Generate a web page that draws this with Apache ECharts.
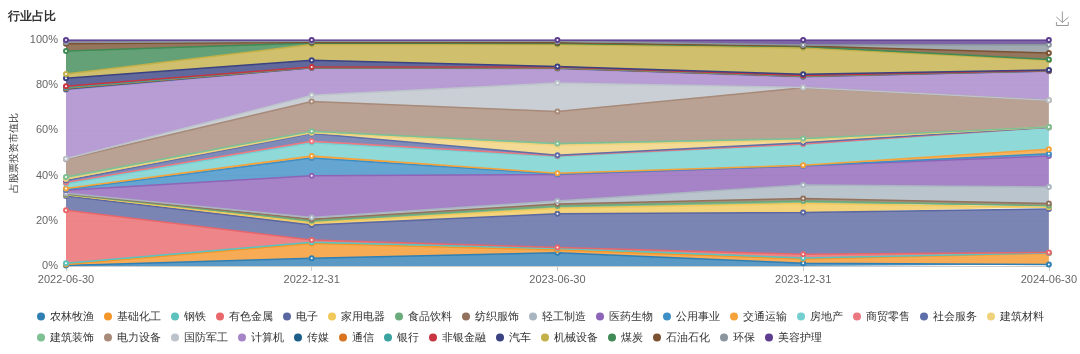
<!DOCTYPE html>
<html lang="zh-CN">
<head>
    <meta charset="UTF-8">
    <title>行业占比</title>
    <style>
        html, body { margin: 0; padding: 0; background: #fff; }
        #main { width: 1080px; height: 354px; }
    </style>
</head>
<body>
<div id="main"></div>
<script src="https://cdn.jsdelivr.net/npm/echarts@6/dist/echarts.min.js"></script>
<script>
    // report dates (x axis)
    const dates = ['2022-06-30', '2022-12-31', '2023-06-30', '2023-12-31', '2024-06-30'];

    // industries, bottom of the stack first
    const industries = ['农林牧渔', '基础化工', '钢铁', '有色金属', '电子', '家用电器', '食品饮料', '纺织服饰',
        '轻工制造', '医药生物', '公用事业', '交通运输', '房地产', '商贸零售', '社会服务', '建筑材料',
        '建筑装饰', '电力设备', '国防军工', '计算机', '传媒', '通信', '银行', '非银金融', '汽车',
        '机械设备', '煤炭', '石油石化', '环保', '美容护理'];

    // share of stock holdings (%) per report date, same order as industries
    const share2022H1 = [0.2, 0.5, 0.5, 23.5, 6.3, 0.5, 0.3, 0.2, 0.2, 1.3, 0.4, 0.4, 2.2, 0.5, 0.8, 0.7,
        0.9, 7.8, 0.3, 30.5, 0.3, 0.3, 0.4, 0.5, 3.6, 1.9, 10.1, 3.2, 0.7, 1.0];
    const share2022H2 = [3.4, 6.6, 0.5, 1.0, 6.6, 1.0, 0.9, 0.7, 0.8, 18.4, 7.9, 0.9, 5.8, 0.7, 3.4, 0.4,
        0.6, 13.2, 2.7, 12.1, 0.1, 0.1, 0.1, 0.1, 3.0, 7.0, 0.7, 0.3, 0.5, 0.5];
    const share2023H1 = [5.9, 1.2, 0.7, 0.4, 14.9, 2.4, 1.1, 0.8, 1.4, 11.7, 0.2, 0.3, 7.5, 0.3, 0.2, 4.4,
        0.8, 14.2, 12.6, 6.3, 0.2, 0.1, 0.2, 0.2, 0.3, 9.7, 0.5, 0.3, 0.7, 0.5];
    const share2023H2 = [1.2, 1.9, 0.4, 1.7, 18.5, 4.0, 1.1, 1.1, 5.9, 8.5, 0.1, 0.2, 9.3, 0.1, 0.5, 1.1,
        0.8, 22.5, 0.1, 4.6, 0.2, 0.2, 0.1, 0.2, 0.5, 11.7, 0.6, 0.2, 0.5, 2.2];
    const share2024H1 = [0.7, 4.9, 0.2, 0.2, 19.2, 0.8, 0.7, 1.0, 7.3, 13.7, 1.0, 2.0, 9.6, 0.1, 0.0, 0.1,
        0.0, 11.8, 0.0, 12.9, 0.1, 0.1, 0.0, 0.1, 0.2, 4.3, 0.4, 2.8, 3.7, 2.1];

    const palette = ['#2f7fb4', '#f5962a', '#5bc2bd', '#e8676b', '#5a67a0', '#f0c95a', '#6aaa7b', '#92725c',
        '#a9b5c0', '#8e64b8', '#3e8fc5', '#f5a23a', '#73cfd0', '#eb7880', '#5e6ea8', '#f0d27a',
        '#7fbf94', '#a88a78', '#bcc3cb', '#a585c8', '#1b5e8a', '#d9731f', '#3aa39f', '#c8343f', '#3a4282',
        '#c4b048', '#3f8a55', '#7a5232', '#8a959e', '#5c3d8f'];

    const byDate = [share2022H1, share2022H2, share2023H1, share2023H2, share2024H1];

    let myChart = echarts.init(document.getElementById('main')),
        seriesData = industries.map((name, i) => ({
            name: name,
            type: 'line',
            stack: 'total',
            data: byDate.map(d => d[i]),
            symbol: 'emptyCircle',
            symbolSize: 4,
            lineStyle: { width: 1.5 },
            areaStyle: { opacity: 0.8 }
        }));

    let option = {
        color: palette,
        animation: false,
        title: {
            text: '行业占比',
            left: 3,
            top: 6,
            textStyle: { fontSize: 12, fontWeight: 'bold', color: '#333' }
        },
        toolbox: {
            right: -6,
            top: -6,
            itemSize: 14,
            iconStyle: { borderColor: '#999' },
            feature: { saveAsImage: {} }
        },
        tooltip: { trigger: 'axis' },
        legend: {
            data: industries,
            left: 32,
            right: 20,
            bottom: 6,
            icon: 'circle',
            itemWidth: 8,
            itemHeight: 8,
            itemGap: 10,
            textStyle: { fontSize: 11, color: '#333' }
        },
        grid: { left: 66, right: 30, top: 40, bottom: 88 },
        xAxis: {
            type: 'category',
            boundaryGap: false,
            data: dates,
            axisLine: { lineStyle: { color: '#ccc' } },
            axisTick: { lineStyle: { color: '#ccc' } },
            axisLabel: { color: '#666', fontSize: 11 }
        },
        yAxis: {
            type: 'value',
            min: 0,
            max: 100,
            interval: 20,
            name: '占股票投资市值比',
            nameLocation: 'middle',
            nameGap: 46,
            nameTextStyle: { fontSize: 10, color: '#333' },
            axisLabel: { formatter: '{value}%', color: '#666', fontSize: 11 },
            splitLine: { lineStyle: { color: '#eee' } }
        },
        series: seriesData
    };
    myChart.setOption(option);
</script>
</body>
</html>
